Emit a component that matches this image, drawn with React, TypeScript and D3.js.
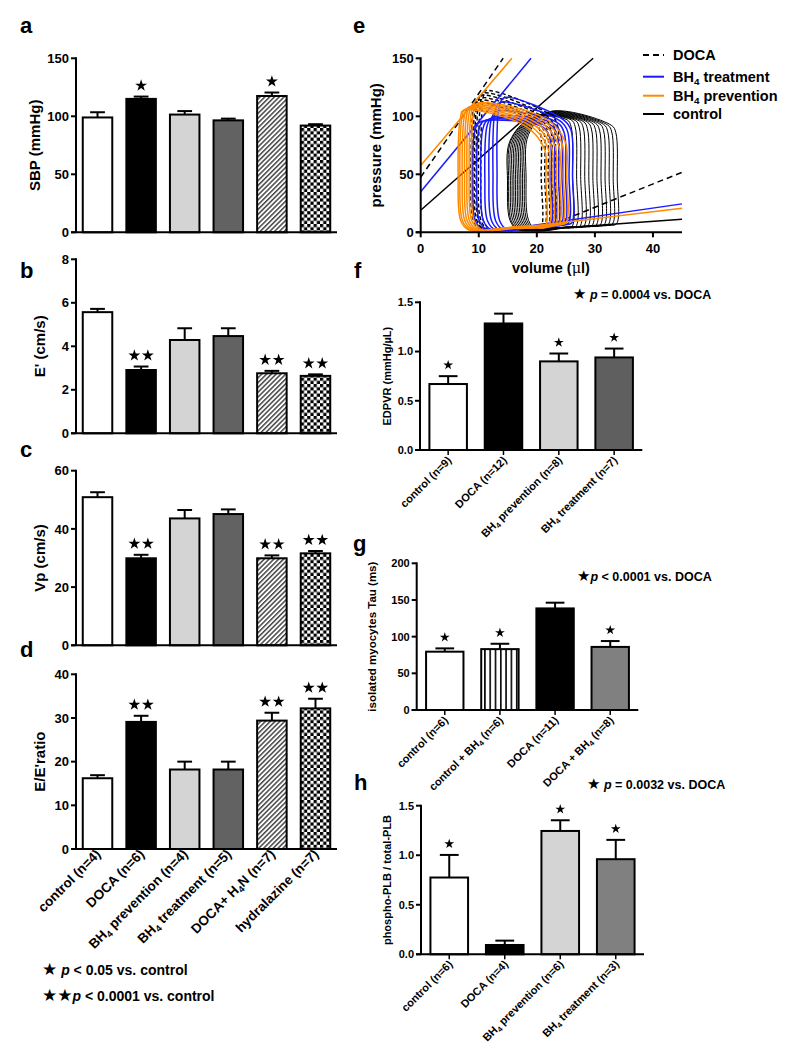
import React from "react";
import * as d3 from "d3";

const FONT = "'Liberation Sans', Arial, Helvetica, sans-serif";
const STAR_FONT = "'DejaVu Sans', sans-serif";

// ---------------- panels a-d ----------------
const groupsLeft = ["control (n=4)", "DOCA (n=6)", "BH₄ prevention (n=4)", "BH₄ treatment (n=5)", "DOCA+ H₄N (n=7)", "hydralazine (n=7)"];
const fillsLeft = ["#ffffff", "#000000", "#d4d4d4", "#626262", "url(#hatch)", "url(#checker)"];

const sbpMean = [99, 115, 101.5, 96.5, 117.5, 92];
const sbpSem = [4.5, 2, 3, 1.5, 3, 1.2];
const sbpStars = [0, 1, 0, 0, 1, 0];
const sbpTicks = [0, 50, 100, 150];

const ePrimeMean = [5.57, 2.91, 4.29, 4.47, 2.76, 2.64];
const ePrimeSem = [0.15, 0.16, 0.54, 0.36, 0.11, 0.07];
const ePrimeStars = [0, 2, 0, 0, 2, 2];
const ePrimeTicks = [0, 2, 4, 6, 8];

const vpMean = [50.9, 29.9, 43.6, 45.1, 29.9, 31.6];
const vpSem = [1.7, 1.2, 2.9, 1.6, 1.0, 0.8];
const vpStars = [0, 2, 0, 0, 2, 2];
const vpTicks = [0, 20, 40, 60];

const eeMean = [16.2, 29.1, 18.2, 18.2, 29.4, 32.2];
const eeSem = [0.7, 1.4, 1.8, 1.8, 1.8, 2.2];
const eeStars = [0, 2, 0, 0, 2, 2];
const eeTicks = [0, 10, 20, 30, 40];

// ---------------- panel f ----------------
const groupsF = ["control (n=9)", "DOCA (n=12)", "BH₄ prevention (n=8)", "BH₄ treatment (n=7)"];
const fillsF = ["#ffffff", "#000000", "#d4d4d4", "#5f5f5f"];
const edpvrMean = [0.67, 1.285, 0.9, 0.94];
const edpvrSem = [0.08, 0.1, 0.08, 0.09];
const edpvrStars = [1, 0, 1, 1];
const edpvrTicks = [0, 0.5, 1.0, 1.5];

// ---------------- panel g ----------------
const groupsG = ["control (n=6)", "control + BH₄ (n=6)", "DOCA (n=11)", "DOCA + BH₄ (n=8)"];
const fillsG = ["#ffffff", "url(#vstripes)", "#000000", "#808080"];
const tauMean = [79.5, 83, 138.5, 86];
const tauSem = [4.5, 7.3, 7.8, 8];
const tauStars = [1, 1, 0, 1];
const tauTicks = [0, 50, 100, 150, 200];

// ---------------- panel h ----------------
const groupsH = ["control (n=6)", "DOCA (n=4)", "BH₄ prevention (n=6)", "BH₄ treatment (n=3)"];
const fillsH = ["#ffffff", "#000000", "#d4d4d4", "#808080"];
const plbMean = [0.775, 0.094, 1.245, 0.96];
const plbSem = [0.228, 0.044, 0.108, 0.195];
const plbStars = [1, 0, 1, 1];
const plbTicks = [0, 0.5, 1.0, 1.5];

// ---------------- panel e (PV loops) ----------------
const volTicks = [0, 10, 20, 30, 40];
const presTicks = [0, 50, 100, 150];

const ctrlEDV = [33.7, 33.0, 32.3, 31.6, 30.9, 30.2, 29.5, 28.8, 28.1, 27.4, 26.7, 26.0];
const ctrlESV = [18.4, 18.1, 17.8, 17.5, 17.2, 16.9, 16.6, 16.3, 16.0, 15.7, 15.4, 15.2];
const ctrlPTL = [104, 103.5, 103, 102.5, 102, 101.5, 101, 100.5, 100, 99.5, 99, 98.5];
const ctrlPTR = [92, 92.5, 93, 93.5, 94, 94.5, 95, 95.5, 96, 96.5, 97, 97];
const ctrlEDP = [7.2, 7, 6.7, 6.5, 6.2, 6, 5.7, 5.5, 5.2, 5, 4.7, 4.5];

const docaEDV = [23.6, 23.0, 22.4, 21.8, 21.2, 20.6];
const docaESV = [10.6, 10.2, 9.8, 9.5, 9.2, 8.9];
const docaPTL = [122, 120, 118, 116, 114, 112];
const docaPTR = [101, 100, 99, 98, 97, 96];
const docaEDP = [6, 5.2, 4.4, 3.6, 3, 2.5];

const treatEDV = [26.0, 25.4, 24.8, 24.2, 23.6, 22.9, 22.3];
const treatESV = [13.4, 12.7, 12.0, 11.3, 10.6, 9.9, 9.2];
const treatPTL = [116, 112, 104, 99, 97, 96, 95];
const treatPTR = [97, 96, 95, 94, 93, 92, 91];
const treatEDP = [8, 7.5, 7, 6.5, 6, 5.5, 5];

const prevEDV = [25.0, 24.4, 23.8, 23.2, 22.6, 22.0, 21.4];
const prevESV = [9.0, 8.6, 8.2, 7.8, 7.4, 7.0, 6.7];
const prevPTL = [111, 110, 109, 108, 107, 106, 105];
const prevPTR = [98, 97, 96, 95, 94, 93, 92];
const prevEDP = [8, 7.4, 6.8, 6.2, 5.6, 5, 4.4];

const ctrlESPVR: [number, number][] = [[0, 19], [29.7, 150]];
const docaESPVR: [number, number][] = [[0, 47.5], [14.2, 150]];
const treatESPVR: [number, number][] = [[0, 35], [19.0, 150]];
const prevESPVR: [number, number][] = [[0, 57.5], [15.7, 150]];
const ctrlEDPVR: [number, number][] = [[18, 1.5], [45, 11.3]];
const docaEDPVR: [number, number][] = [[20, 1.5], [45, 51.7]];
const treatEDPVR: [number, number][] = [[14, 2], [45, 24.5]];
const prevEDPVR: [number, number][] = [[12, 1], [45, 20.7]];

const STAR = "★";

function SubText({ text, fs }: { text: string; fs: number }) {
  const parts = text.split("₄");
  const out: any[] = [];
  parts.forEach((p, i) => {
    if (i > 0) {
      out.push(
        <tspan key={"s" + i} fontSize={fs * 0.68} dy={fs * 0.22}>
          4
        </tspan>
      );
      out.push(
        <tspan key={"t" + i} dy={-fs * 0.22}>
          {p}
        </tspan>
      );
    } else {
      out.push(<tspan key={"t" + i}>{p}</tspan>);
    }
  });
  return <>{out}</>;
}

type BarProps = {
  left: number;
  right: number;
  top: number;
  bottom: number;
  domain: [number, number];
  ticks: number[];
  fmt: (v: number) => string;
  groups: string[];
  means: number[];
  sems: number[];
  stars: number[];
  fills: string[];
  ylabel: string;
  ylabelX: number;
  ylabelSize: number;
  tickFont: number;
  starSize: number;
  starGap: number;
  starLift: number;
  xTicks: boolean;
  xLabels: boolean;
  xLabelY: number;
  xLabelFont: number;
  padInner: number;
  padOuter: number;
};

function BarPanel(p: BarProps) {
  const x = d3
    .scaleBand<string>()
    .domain(p.groups)
    .range([p.left, p.right])
    .paddingInner(p.padInner)
    .paddingOuter(p.padOuter);
  const y = d3.scaleLinear().domain(p.domain).range([p.bottom, p.top]);
  const bw = x.bandwidth();
  const starPath = d3.symbol(d3.symbolStar, p.starSize)() || "";
  return (
    <g>
      {p.groups.map((g, i) => {
        const x0 = x(g) as number;
        const cx = x0 + bw / 2;
        const yt = y(p.means[i]);
        const ye = y(p.means[i] + p.sems[i]);
        const n = p.stars[i];
        return (
          <g key={g}>
            <line x1={cx} x2={cx} y1={yt} y2={ye} stroke="#000" strokeWidth={2} />
            <line x1={cx - bw * 0.25} x2={cx + bw * 0.25} y1={ye} y2={ye} stroke="#000" strokeWidth={2} />
            <rect x={x0} y={yt} width={bw} height={p.bottom - yt} fill={p.fills[i]} stroke="#000" strokeWidth={2} />
            {d3.range(n).map((k) => (
              <path
                key={k}
                d={starPath}
                transform={`translate(${cx + (k - (n - 1) / 2) * p.starGap},${ye - p.starLift})`}
                fill="#000"
              />
            ))}
            {p.xTicks && <line x1={cx} x2={cx} y1={p.bottom} y2={p.bottom + 5} stroke="#000" strokeWidth={1.5} />}
            {p.xLabels && (
              <text
                transform={`translate(${cx + 4},${p.xLabelY}) rotate(-45)`}
                textAnchor="end"
                fontSize={p.xLabelFont}
              >
                <SubText text={g} fs={p.xLabelFont} />
              </text>
            )}
          </g>
        );
      })}
      <line x1={p.left} x2={p.left} y1={p.top - 1} y2={p.bottom} stroke="#000" strokeWidth={2} />
      <line x1={p.left - 5} x2={p.right} y1={p.bottom} y2={p.bottom} stroke="#000" strokeWidth={2} />
      {p.ticks.map((t) => (
        <g key={t}>
          <line x1={p.left - 5} x2={p.left} y1={y(t)} y2={y(t)} stroke="#000" strokeWidth={2} />
          <text x={p.left - 7} y={y(t)} dy="0.36em" textAnchor="end" fontSize={p.tickFont}>
            {p.fmt(t)}
          </text>
        </g>
      ))}
      <text
        transform={`translate(${p.ylabelX},${(p.top + p.bottom) / 2}) rotate(-90)`}
        textAnchor="middle"
        fontSize={p.ylabelSize}
      >
        {p.ylabel}
      </text>
    </g>
  );
}

type Shape = { rcV: number; rcP: number; rlV: number; rlP: number };

function loopVertices(edv: number, esv: number, pTL: number, pTR: number, edp: number, s: Shape): [number, number][] {
  return [
    [edv, edp],
    [edv + 0.15, 0.5 * pTR],
    [edv - 0.1, pTR - s.rcP],
    [edv - s.rcV, pTR],
    [esv + s.rlV, pTL],
    [esv + 0.15, pTL - s.rlP],
    [esv - 0.25, 0.45 * pTL],
    [esv + 0.2, 10],
    [esv + 1.6, 2],
    [(esv + edv) / 2, edp * 0.5 + 1],
    [edv - 1.5, edp * 0.85],
  ];
}

function PVPanel() {
  const x = d3.scaleLinear().domain([0, 45]).range([420.7, 682]);
  const y = d3.scaleLinear().domain([0, 150]).range([232.3, 58.3]);
  const loopGen = d3
    .line<[number, number]>()
    .x((d) => x(d[0]))
    .y((d) => y(d[1]))
    .curve(d3.curveCatmullRomClosed.alpha(0.5));
  const lineGen = d3
    .line<[number, number]>()
    .x((d) => x(d[0]))
    .y((d) => y(d[1]));

  const families = [
    {
      key: "ctrl",
      edv: ctrlEDV, esv: ctrlESV, ptl: ctrlPTL, ptr: ctrlPTR, edp: ctrlEDP,
      shape: { rcV: 0.8, rcP: 6, rlV: 3.8, rlP: 20 },
      color: "#000000", dash: undefined as string | undefined, width: 1.0,
      espvr: ctrlESPVR, edpvr: ctrlEDPVR,
    },
    {
      key: "doca",
      edv: docaEDV, esv: docaESV, ptl: docaPTL, ptr: docaPTR, edp: docaEDP,
      shape: { rcV: 1.2, rcP: 8, rlV: 0.5, rlP: 6 },
      color: "#000000", dash: "4,2.5", width: 1.4,
      espvr: docaESPVR, edpvr: docaEDPVR,
    },
    {
      key: "treat",
      edv: treatEDV, esv: treatESV, ptl: treatPTL, ptr: treatPTR, edp: treatEDP,
      shape: { rcV: 1.4, rcP: 9, rlV: 1.0, rlP: 7 },
      color: "#1a1aff", dash: undefined, width: 1.5,
      espvr: treatESPVR, edpvr: treatEDPVR,
    },
    {
      key: "prev",
      edv: prevEDV, esv: prevESV, ptl: prevPTL, ptr: prevPTR, edp: prevEDP,
      shape: { rcV: 3.5, rcP: 20, rlV: 0.6, rlP: 6 },
      color: "#ff8a00", dash: undefined, width: 1.5,
      espvr: prevESPVR, edpvr: prevEDPVR,
    },
  ];

  const legend = [
    { label: "DOCA", color: "#000", dash: "6,4" },
    { label: "BH₄ treatment", color: "#1a1aff", dash: undefined },
    { label: "BH₄ prevention", color: "#ff8a00", dash: undefined },
    { label: "control", color: "#000", dash: undefined },
  ];
  const legendY = [55, 76.7, 95.7, 114];

  return (
    <g>
      {families.map((f) => (
        <g key={f.key}>
          {f.edv.map((_, i) => (
            <path
              key={i}
              d={loopGen(loopVertices(f.edv[i], f.esv[i], f.ptl[i], f.ptr[i], f.edp[i], f.shape)) || ""}
              fill="none"
              stroke={f.color}
              strokeWidth={f.width}
              strokeDasharray={f.dash}
            />
          ))}
          <path d={lineGen(f.espvr) || ""} fill="none" stroke={f.color} strokeWidth={1.5} strokeDasharray={f.dash ? "6,4" : undefined} />
          <path d={lineGen(f.edpvr) || ""} fill="none" stroke={f.color} strokeWidth={1.5} strokeDasharray={f.dash ? "6,4" : undefined} />
        </g>
      ))}
      <line x1={x(0)} x2={x(0)} y1={y(150) - 1} y2={y(0)} stroke="#000" strokeWidth={2} />
      <line x1={x(0) - 5} x2={x(45)} y1={y(0)} y2={y(0)} stroke="#000" strokeWidth={2} />
      {volTicks.map((t) => (
        <g key={t}>
          <line x1={x(t)} x2={x(t)} y1={y(0)} y2={y(0) + 5} stroke="#000" strokeWidth={2} />
          <text x={x(t)} y={253} textAnchor="middle" fontSize={13}>
            {t}
          </text>
        </g>
      ))}
      {presTicks.map((t) => (
        <g key={t}>
          <line x1={x(0) - 5} x2={x(0)} y1={y(t)} y2={y(t)} stroke="#000" strokeWidth={2} />
          <text x={x(0) - 7} y={y(t)} dy="0.36em" textAnchor="end" fontSize={13}>
            {t}
          </text>
        </g>
      ))}
      <text transform={`translate(381,${(y(0) + y(150)) / 2}) rotate(-90)`} textAnchor="middle" fontSize={15}>
        pressure (mmHg)
      </text>
      <text x={551} y={273} textAnchor="middle" fontSize={14.5}>
        volume (<tspan fontWeight="normal" fontFamily="'DejaVu Serif', serif">μ</tspan>l)
      </text>
      {legend.map((l, i) => (
        <g key={l.label}>
          <line x1={643} x2={664} y1={legendY[i]} y2={legendY[i]} stroke={l.color} strokeWidth={2} strokeDasharray={l.dash} />
          <text x={673} y={legendY[i] + 5} fontSize={14.5}>
            <SubText text={l.label} fs={14.5} />
          </text>
        </g>
      ))}
    </g>
  );
}

const f0 = (v: number) => d3.format("d")(v);
const f1 = (v: number) => d3.format(".1f")(v);

function StarT({ size, count = 1 }: { size: number; count?: number }) {
  return (
    <tspan fontWeight="normal" fontFamily={STAR_FONT} fontSize={size}>
      {STAR.repeat(count)}
    </tspan>
  );
}

export default function App() {
  const leftCommon = {
    left: 76,
    right: 337,
    groups: groupsLeft,
    fills: fillsLeft,
    fmt: f0,
    ylabelSize: 15,
    tickFont: 13,
    starSize: 44,
    starGap: 13.5,
    starLift: 11,
    xTicks: false,
    xLabelFont: 13.5,
    xLabelY: 855,
    padInner: 0.323,
    padOuter: 0.155,
  };
  const rightCommon = {
    fmt: f1,
    ylabelSize: 11,
    tickFont: 11,
    starSize: 30,
    starGap: 12,
    starLift: 11,
    xTicks: true,
    xLabels: true,
    xLabelFont: 11,
    padInner: 0.322,
    padOuter: 0.17,
  };
  return (
    <svg
      width={786}
      height={1050}
      style={{ position: "absolute", left: 0, top: 0, background: "#fff" }}
      fontFamily={FONT}
      fontWeight="bold"
    >
      <defs>
        <pattern id="hatch" patternUnits="userSpaceOnUse" width={3.4} height={3.4} patternTransform="rotate(45)">
          <rect width={3.4} height={3.4} fill="#fff" />
          <line x1={0.8} y1={0} x2={0.8} y2={3.4} stroke="#000" strokeWidth={1.1} />
        </pattern>
        <pattern id="checker" patternUnits="userSpaceOnUse" width={6.4} height={6.4}>
          <rect width={6.4} height={6.4} fill="#fff" />
          <rect x={0} y={0} width={3.2} height={3.2} fill="#000" />
          <rect x={3.2} y={3.2} width={3.2} height={3.2} fill="#000" />
        </pattern>
        <pattern id="vstripes" patternUnits="userSpaceOnUse" width={5.3} height={10}>
          <rect width={5.3} height={10} fill="#fff" />
          <line x1={2.6} x2={2.6} y1={0} y2={10} stroke="#000" strokeWidth={1.6} />
        </pattern>
      </defs>
      <rect width={786} height={1050} fill="#fff" />

      {/* panel letters */}
      <g fontSize={22}>
        <text x={20} y={33}>a</text>
        <text x={20} y={278}>b</text>
        <text x={20} y={457}>c</text>
        <text x={20} y={657}>d</text>
        <text x={353} y={33}>e</text>
        <text x={354} y={278}>f</text>
        <text x={353} y={551}>g</text>
        <text x={354} y={790}>h</text>
      </g>

      <BarPanel
        {...leftCommon}
        top={58.3}
        bottom={232.3}
        domain={[0, 150]}
        ticks={sbpTicks}
        means={sbpMean}
        sems={sbpSem}
        stars={sbpStars}
        ylabel="SBP (mmHg)"
        ylabelX={40}
        xLabels={false}
      />
      <BarPanel
        {...leftCommon}
        top={259.3}
        bottom={433.3}
        domain={[0, 8]}
        ticks={ePrimeTicks}
        means={ePrimeMean}
        sems={ePrimeSem}
        stars={ePrimeStars}
        ylabel="E' (cm/s)"
        ylabelX={45}
        xLabels={false}
      />
      <BarPanel
        {...leftCommon}
        top={470.7}
        bottom={645.3}
        domain={[0, 60]}
        ticks={vpTicks}
        means={vpMean}
        sems={vpSem}
        stars={vpStars}
        ylabel="Vp (cm/s)"
        ylabelX={45}
        xLabels={false}
      />
      <BarPanel
        {...leftCommon}
        top={674.3}
        bottom={849}
        domain={[0, 40]}
        ticks={eeTicks}
        means={eeMean}
        sems={eeSem}
        stars={eeStars}
        ylabel="E/E'ratio"
        ylabelX={45}
        xLabels={true}
      />

      <g fontSize={14}>
        <text x={42} y={975}>
          <StarT size={17} /> <tspan fontStyle="italic">p</tspan> &lt; 0.05 vs. control
        </text>
        <text x={42} y={1001}>
          <StarT size={17} count={2} />
          <tspan fontStyle="italic">p</tspan> &lt; 0.0001 vs. control
        </text>
      </g>

      <PVPanel />

      <BarPanel
        {...rightCommon}
        left={420}
        right={642.3}
        top={302.3}
        bottom={450}
        domain={[0, 1.5]}
        ticks={edpvrTicks}
        groups={groupsF}
        fills={fillsF}
        means={edpvrMean}
        sems={edpvrSem}
        stars={edpvrStars}
        ylabel="EDPVR (mmHg/µL)"
        ylabelX={391}
        xLabelY={461}
      />
      <text x={573} y={299} fontSize={12.5}>
        <StarT size={15} /> <tspan fontStyle="italic">p</tspan> = 0.0004 vs. DOCA
      </text>

      <BarPanel
        {...rightCommon}
        fmt={f0}
        left={416.7}
        right={638.3}
        top={563.3}
        bottom={710}
        domain={[0, 200]}
        ticks={tauTicks}
        groups={groupsG}
        fills={fillsG}
        means={tauMean}
        sems={tauSem}
        stars={tauStars}
        ylabel="isolated myocytes Tau (ms)"
        ylabelSize={11.5}
        ylabelX={376}
        xLabelY={721}
      />
      <text x={577} y={581} fontSize={12.5}>
        <StarT size={15} />
        <tspan fontStyle="italic">p</tspan> &lt; 0.0001 vs. DOCA
      </text>

      <BarPanel
        {...rightCommon}
        left={421}
        right={644}
        top={805.7}
        bottom={954.3}
        domain={[0, 1.5]}
        ticks={plbTicks}
        groups={groupsH}
        fills={fillsH}
        means={plbMean}
        sems={plbSem}
        stars={plbStars}
        ylabel="phospho-PLB / total-PLB"
        ylabelX={391}
        xLabelY={965}
      />
      <text x={587} y={789} fontSize={12.5}>
        <StarT size={15} /> <tspan fontStyle="italic">p</tspan> = 0.0032 vs. DOCA
      </text>
    </svg>
  );
}
